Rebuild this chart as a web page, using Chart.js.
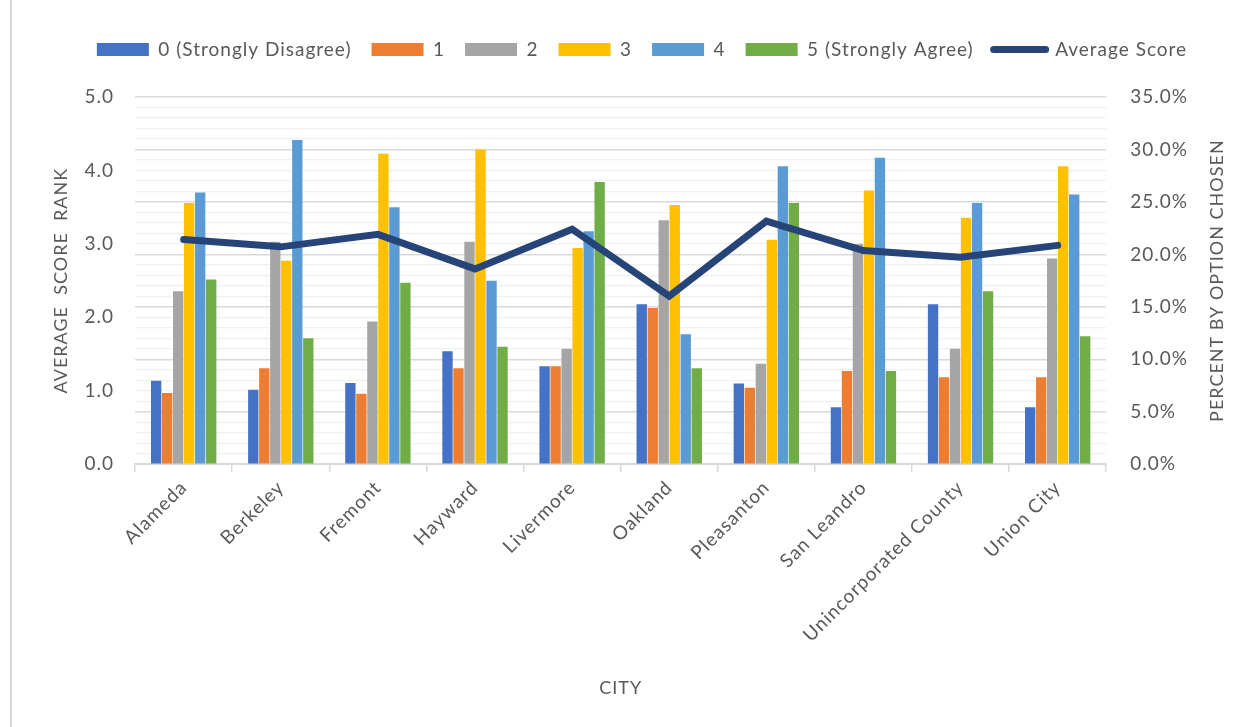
<!DOCTYPE html>
<html>
<head>
<meta charset="utf-8">
<title>Average Score by City</title>
<script src="https://cdn.jsdelivr.net/npm/chart.js@4/dist/chart.umd.min.js"></script>
<style>
    body { margin: 0; background: #fff; }
    #wrap { position: relative; width: 1248px; height: 727px; }
    #wrap::before {
        content: ''; position: absolute; left: 10px; top: 0; bottom: 0;
        border-left: 2px solid #d9d9d9;
    }
</style>
</head>
<body>
<div id="wrap"><canvas id="chart-ciudades" width="1248" height="727"></canvas></div>
<script>
// Ciudades y resultados de la encuesta
const ciudades = ['Alameda', 'Berkeley', 'Fremont', 'Hayward', 'Livermore', 'Oakland',
    'Pleasanton', 'San Leandro', 'Unincorporated County', 'Union City'];

// Porcentaje de respuestas por opción (0 a 5)
const opcion0 = [7.97, 7.1, 7.74, 10.78, 9.34, 15.26, 7.7, 5.44, 15.26, 5.44];
const opcion1 = [6.79, 9.15, 6.72, 9.15, 9.34, 14.9, 7.3, 8.9, 8.3, 8.3];
const opcion2 = [16.5, 21.2, 13.6, 21.2, 11.0, 23.25, 9.57, 21.0, 11.0, 19.6];
const opcion3 = [24.9, 19.4, 29.6, 30.0, 20.6, 24.7, 21.4, 26.1, 23.5, 28.4];
const opcion4 = [25.9, 30.9, 24.5, 17.5, 22.2, 12.4, 28.4, 29.2, 24.9, 25.7];
const opcion5 = [17.6, 12.0, 17.3, 11.2, 26.9, 9.15, 24.9, 8.9, 16.5, 12.2];

// Puntaje promedio por ciudad
const promedio = [3.06, 2.96, 3.13, 2.66, 3.2, 2.29, 3.31, 2.91, 2.82, 2.98];

const etiquetas = ['0 (Strongly Disagree)', '1', '2', '3', '4', '5 (Strongly Agree)'];
const colores = ['#4472C4', '#ED7D31', '#A5A5A5', '#FFC000', '#5B9BD5', '#70AD47'];
const colorLinea = '#264478';
const gris = '#595959';
const tituloDerecho = 'PERCENT BY OPTION CHOSEN';

// Texto un poco más espaciado, como en Excel
const espaciado = {
    id: 'espaciado',
    beforeUpdate(chart) { chart.ctx.letterSpacing = '1px'; },
    beforeDraw(chart) { chart.ctx.letterSpacing = '1px'; }
};

// Espacio extra debajo de la leyenda
const margenLeyenda = {
    id: 'margenLeyenda',
    beforeInit(chart) {
        const fit = chart.legend.fit;
        chart.legend.fit = function () {
            fit.bind(chart.legend)();
            this.height += 28;
        };
    }
};

// Título del eje derecho leído de abajo hacia arriba
const tituloEjeDerecho = {
    id: 'tituloEjeDerecho',
    afterDraw(chart) {
        const eje = chart.scales.y1;
        const area = chart.chartArea;
        const c = chart.ctx;
        c.save();
        c.translate(eje.right - 17, (area.top + area.bottom) / 2);
        c.rotate(-Math.PI / 2);
        c.font = '18px Lato';
        c.fillStyle = gris;
        c.textAlign = 'center';
        c.textBaseline = 'middle';
        c.fillText(tituloDerecho, 0, 0);
        c.restore();
    }
};

document.addEventListener('DOMContentLoaded', function () {
    crearGrafico();
});

function crearGrafico() {
    const ctx = document.getElementById('chart-ciudades');
    if (!ctx) return;

    const series = [opcion0, opcion1, opcion2, opcion3, opcion4, opcion5];
    const barras = series.map((datos, i) => ({
        type: 'bar',
        label: etiquetas[i],
        data: datos,
        backgroundColor: colores[i],
        borderWidth: 0,
        yAxisID: 'y1',
        order: 1,
        categoryPercentage: 0.68,
        barPercentage: 0.94
    }));

    const linea = {
        type: 'line',
        label: 'Average Score',
        data: promedio,
        borderColor: colorLinea,
        backgroundColor: colorLinea,
        borderWidth: 7,
        borderCapStyle: 'round',
        tension: 0,
        pointRadius: 0,
        yAxisID: 'y',
        order: 0
    };

    new Chart(ctx, {
        data: {
            labels: ciudades,
            datasets: barras.concat([linea])
        },
        plugins: [espaciado, margenLeyenda, tituloEjeDerecho],
        options: {
            responsive: false,
            animation: false,
            layout: {
                padding: { left: 50, right: 14, top: 20, bottom: 24 }
            },
            plugins: {
                tooltip: { enabled: false },
                legend: {
                    display: true,
                    position: 'top',
                    labels: {
                        usePointStyle: true,
                        pointStyleWidth: 52,
                        boxHeight: 13,
                        padding: 20,
                        color: gris,
                        font: { family: 'Lato', size: 19 },
                        generateLabels: function (chart) {
                            return chart.data.datasets.map((ds, i) => ({
                                text: ds.label,
                                fillStyle: ds.backgroundColor,
                                strokeStyle: ds.type === 'line' ? ds.borderColor : ds.backgroundColor,
                                lineWidth: ds.type === 'line' ? 7 : 0,
                                lineCap: 'round',
                                pointStyle: ds.type === 'line' ? 'line' : 'rect',
                                fontColor: gris,
                                hidden: false,
                                datasetIndex: i
                            }));
                        }
                    }
                }
            },
            scales: {
                x: {
                    offset: true,
                    grid: {
                        offset: true,
                        drawOnChartArea: false,
                        drawTicks: true,
                        tickLength: 8,
                        color: '#d9d9d9',
                        lineWidth: 1.5
                    },
                    border: { color: '#d9d9d9', width: 2 },
                    ticks: {
                        color: gris,
                        font: { family: 'Lato', size: 19 },
                        minRotation: 45,
                        maxRotation: 45,
                        autoSkip: false,
                        padding: 4
                    },
                    title: {
                        display: true,
                        text: 'CITY',
                        color: gris,
                        font: { family: 'Lato', size: 18 },
                        padding: { top: 27 }
                    }
                },
                y: {
                    position: 'left',
                    min: 0,
                    max: 5,
                    grid: { display: false },
                    border: { display: false },
                    ticks: {
                        stepSize: 1,
                        padding: 13,
                        color: gris,
                        font: { family: 'Lato', size: 19 },
                        callback: v => v.toFixed(1)
                    },
                    title: {
                        display: true,
                        text: 'AVERAGE  SCORE  RANK',
                        color: gris,
                        font: { family: 'Lato', size: 18 },
                        padding: { top: 0, bottom: 0 }
                    }
                },
                y1: {
                    position: 'right',
                    min: 0,
                    max: 35,
                    afterBuildTicks: function (escala) {
                        const ticks = [];
                        for (let v = 0; v <= 35; v++) ticks.push({ value: v });
                        escala.ticks = ticks;
                    },
                    afterFit: function (escala) {
                        // reserva el ancho del título, que se dibuja aparte
                        escala.width += 22;
                    },
                    grid: {
                        drawTicks: false,
                        color: c => (c.tick && c.tick.value % 5 === 0) ? '#d9d9d9' : '#f0f0f0',
                        lineWidth: c => (c.tick && c.tick.value % 5 === 0) ? 1.6 : 1.2
                    },
                    border: { display: false },
                    ticks: {
                        autoSkip: false,
                        padding: 24,
                        color: gris,
                        font: { family: 'Lato', size: 19 },
                        callback: v => (v % 5 === 0) ? v.toFixed(1) + '%' : ''
                    }
                }
            }
        }
    });
}
</script>
</body>
</html>
